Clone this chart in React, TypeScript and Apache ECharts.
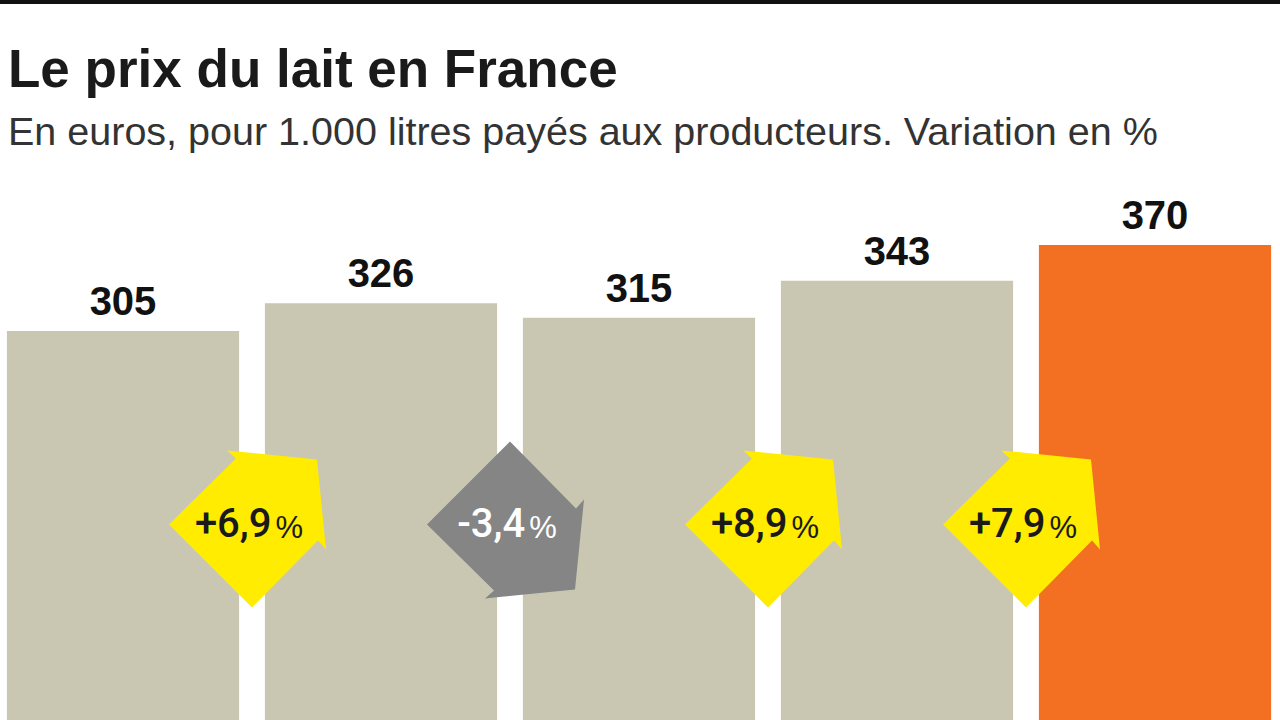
import { useEffect, useRef } from 'react';
import * as echarts from 'echarts';

const categories = ['P1', 'P2', 'P3', 'P4', 'P5'];
const prices = [305, 326, 315, 343, 370];
const variations = [6.9, -3.4, 8.9, 7.9];
const highlightIndex = 4;

const TITLE = 'Le prix du lait en France';
const SUBTITLE = 'En euros, pour 1.000 litres payés aux producteurs. Variation en %';

const BAR_COLOR = '#c9c7b2';
const HIGHLIGHT_COLOR = '#f37022';
const UP_COLOR = '#ffec00';
const DOWN_COLOR = '#858585';
const ARROW_LEVEL = 159;

const UP_ARROW = [
  [-83, 0], [-16, -66], [-25, -74], [65, -65], [74, 25], [66, 16], [0, 83],
];

function fmt(v: number): string {
  const s = Math.abs(v).toFixed(1).replace('.', ',');
  return (v >= 0 ? '+' : '-') + s;
}

export default function App() {
  const ref = useRef<HTMLDivElement>(null);
  useEffect(() => {
    if (!ref.current) return;
    const chart = echarts.init(ref.current, null, { renderer: 'svg' });
    chart.setOption({
      animation: false,
      backgroundColor: '#ffffff',
      title: [
        {
          text: TITLE, left: 14, top: 42, padding: 0,
          textStyle: { fontSize: 53, fontWeight: 'bold', color: '#1a1a1a', fontFamily: 'Liberation Sans', lineHeight: 53 },
        },
        {
          text: SUBTITLE, left: 14, top: 111, padding: 0,
          textStyle: { fontSize: 39.5, fontWeight: 'normal', color: '#333333', fontFamily: 'Liberation Sans', lineHeight: 40 },
        },
      ],
      graphic: [
        { type: 'rect', left: 0, top: 0, shape: { width: 1290, height: 4 }, style: { fill: '#111111' } },
      ],
      grid: { left: 0, right: 0, top: 245, bottom: 0, containLabel: false },
      xAxis: {
        type: 'category', data: categories,
        axisLine: { show: false }, axisTick: { show: false }, axisLabel: { show: false }, splitLine: { show: false },
      },
      yAxis: {
        type: 'value', min: 0, max: 370, show: false, splitLine: { show: false },
      },
      series: [
        {
          type: 'bar',
          barCategoryGap: '10%',
          data: prices.map((p, i) => ({
            value: p,
            itemStyle: { color: i === highlightIndex ? HIGHLIGHT_COLOR : BAR_COLOR },
          })),
          label: {
            show: true, position: 'top', distance: 10,
            fontSize: 40, fontWeight: 'bold', color: '#111111', fontFamily: 'Liberation Sans',
          },
        },
        {
          type: 'custom',
          data: variations.map((v, i) => [i, v]),
          encode: { x: 0, y: 1 },
          z: 5,
          renderItem: (params: any, api: any) => {
            const i = api.value(0);
            const v = api.value(1);
            const a = api.coord([i, ARROW_LEVEL]);
            const b = api.coord([i + 1, ARROW_LEVEL]);
            const cx = (a[0] + b[0]) / 2;
            const cy = a[1];
            const up = v >= 0;
            const pts = UP_ARROW.map(([x, y]) => [cx + x, cy + (up ? y : -y)]);
            const tc = up ? '#1a1a1a' : '#ffffff';
            return {
              type: 'group',
              children: [
                { type: 'polygon', shape: { points: pts }, style: { fill: up ? UP_COLOR : DOWN_COLOR } },
                {
                  type: 'text', x: cx - 3, y: cy - 1,
                  style: {
                    text: `{n|${fmt(v)}}{p|%}`,
                    align: 'center', verticalAlign: 'middle', fill: tc,
                    rich: {
                      n: { fontSize: 40, fontFamily: 'Roboto', fontWeight: 500, fill: tc, lineHeight: 40, verticalAlign: 'bottom' },
                      p: { fontSize: 31, fontFamily: 'Liberation Sans', fontWeight: 'normal', fill: tc, lineHeight: 40, verticalAlign: 'bottom', padding: [0, 0, 0, 4] },
                    },
                  },
                },
              ],
            };
          },
        },
      ],
    });
    return () => chart.dispose();
  }, []);
  return <div ref={ref} style={{ position: 'fixed', left: -6, top: 0, width: 1290, height: 735 }} />;
}
